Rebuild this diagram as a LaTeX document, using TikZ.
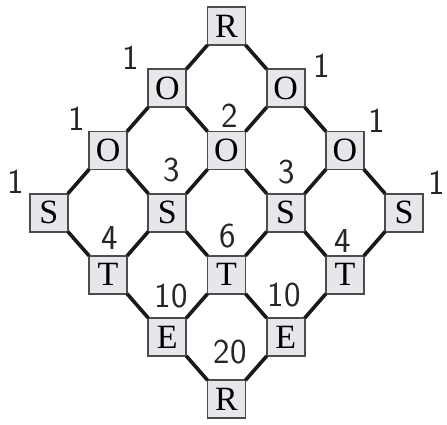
\documentclass[tikz,border=0pt]{standalone}
\usepackage{fontspec}
\newfontfamily\boxfont{Liberation Serif}
\usepackage{tikz}
\usetikzlibrary{calc}
\definecolor{boxgray}{HTML}{E7E7EB}

\begin{document}
\begin{tikzpicture}[x=1pt,y=1pt,
  letterbox/.style={draw=black!70,line width=1.8pt,fill=boxgray,minimum size=38pt,
    inner sep=0pt,outer sep=0pt,font=\fontsize{34}{34}\boxfont},
  link/.style={line width=3.6pt,black!90},
  count/.style={font=\fontsize{35}{35}\sffamily,black!85}]
  \useasboundingbox (0,0) rectangle (447,424);
  % letter boxes on a rotated 4x4 lattice
  \foreach \i in {0,...,3}
    \foreach \j in {0,...,3}{
      \pgfmathtruncatemacro{\r}{\i+\j}
      \pgfmathsetmacro{\letter}{{"R","O","O","S","T","E","R"}[\r]}
      \node[letterbox] (n-\i-\j) at (226.5+\j*59.2-\i*59.2,398-\r*62.2) {\letter};
    }
  % corner-to-corner links
  \foreach \i in {0,...,3}
    \foreach \j in {0,...,2}{
      \pgfmathtruncatemacro{\jn}{\j+1}
      \draw[link] (n-\i-\j.south east) -- (n-\i-\jn.north west);
      \draw[link] (n-\j-\i.south west) -- (n-\jn-\i.north east);
    }
  % handwritten path counts
  \node[count] (c-1-l) at (131,366) {1};
  \node[count] (c-1-r) at (322,358) {1};
  \node[count] (c-2) at (230,308) {2};
  \node[count] (c-2-l) at (77,305) {1};
  \node[count] (c-2-r) at (377,303) {1};
  \node[count] (c-3-l) at (172,254) {3};
  \node[count] (c-3-r) at (287,252) {3};
  \node[count] (c-3-ll) at (16,242) {1};
  \node[count] (c-3-rr) at (437,241) {1};
  \node[count] (c-4-l) at (110,186) {4};
  \node[count] (c-4) at (228,188) {6};
  \node[count] (c-4-r) at (343,183) {4};
  \node[count] (c-5-l) at (171,128) {10};
  \node[count] (c-5-r) at (284,129) {10};
  \node[count] (c-6) at (230,72) {20};
\end{tikzpicture}
\end{document}
